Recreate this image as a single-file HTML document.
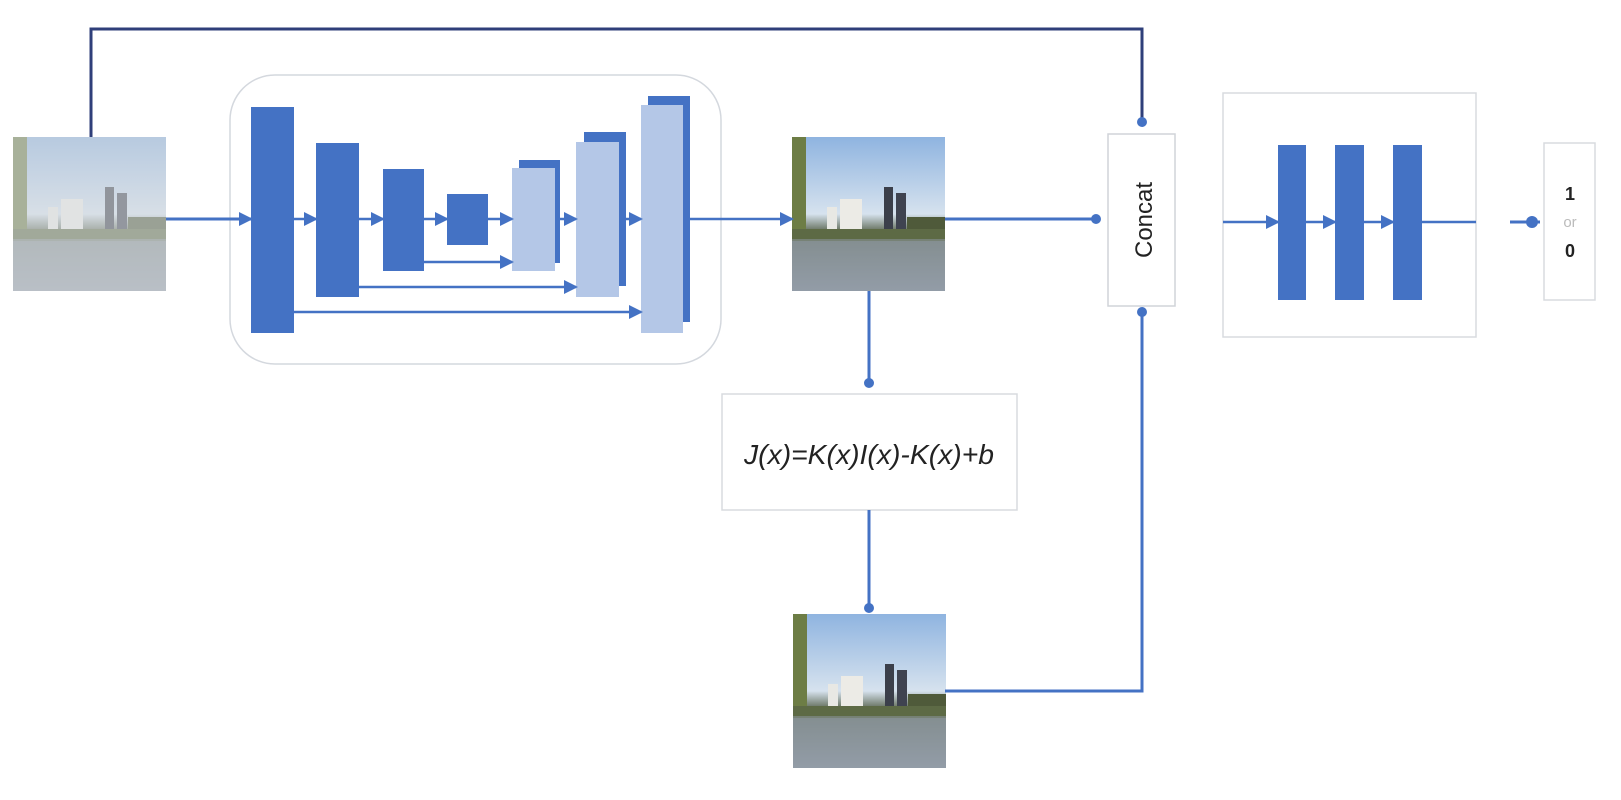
<!DOCTYPE html>
<html><head><meta charset="utf-8"><style>
body{margin:0;width:1621px;height:800px;background:#fff;overflow:hidden}
svg{display:block}
</style></head><body>
<svg width="1621" height="800" viewBox="0 0 1621 800" xmlns="http://www.w3.org/2000/svg">
<defs>
<marker id="b" markerWidth="14" markerHeight="14" refX="12" refY="7" orient="auto" markerUnits="userSpaceOnUse"><path d="M0,0 L14,7 L0,14 Z" fill="#4472C4"/></marker>
<linearGradient id="sky" x1="0" y1="0" x2="0" y2="1"><stop offset="0" stop-color="#8fb4e0"/><stop offset="0.5" stop-color="#d6e2ee"/><stop offset="0.6" stop-color="#6f7a6a"/><stop offset="1" stop-color="#9aa3ad"/></linearGradient>
<g id="city">
<rect x="0" y="0" width="153" height="154" fill="url(#sky)"/>
<rect x="0" y="0" width="14" height="100" fill="#6d7d45"/>
<rect x="35" y="70" width="10" height="30" fill="#e8e8e4"/>
<rect x="48" y="62" width="22" height="38" fill="#ecebe6"/>
<rect x="92" y="50" width="9" height="52" fill="#3b3f4a"/>
<rect x="104" y="56" width="10" height="46" fill="#3f4350"/>
<rect x="115" y="80" width="38" height="20" fill="#4f5a3a"/>
<rect x="0" y="92" width="153" height="10" fill="#5d6a45"/>
<rect x="0" y="104" width="153" height="50" fill="#8d98a3" opacity="0.6"/>
</g>
</defs>
<g transform="translate(13,137)"><use href="#city"/><rect width="153" height="154" fill="#d8dde0" opacity="0.55"/></g>
<g transform="translate(792,137)"><use href="#city"/></g>
<g transform="translate(793,614)"><use href="#city"/></g>

<polyline points="91,137 91,29 1142,29 1142,122" fill="none" stroke="#2f3f7a" stroke-width="3"/>
<circle cx="1142" cy="122" r="5" fill="#4472C4"/>

<rect x="230" y="75" width="491" height="289" rx="45" fill="none" stroke="#d4d8de" stroke-width="1.5"/>
<line x1="166" y1="219" x2="251" y2="219" stroke="#4472C4" stroke-width="3" marker-end="url(#b)"/>
<rect x="251" y="107" width="43" height="226" fill="#4472C4"/>
<rect x="316" y="143" width="43" height="154" fill="#4472C4"/>
<rect x="383" y="169" width="41" height="102" fill="#4472C4"/>
<rect x="447" y="194" width="41" height="51" fill="#4472C4"/>
<rect x="519" y="160" width="41" height="103" fill="#4472C4"/>
<rect x="512" y="168" width="43" height="103" fill="#B4C7E7"/>
<rect x="584" y="132" width="42" height="154" fill="#4472C4"/>
<rect x="576" y="142" width="43" height="155" fill="#B4C7E7"/>
<rect x="648" y="96" width="42" height="226" fill="#4472C4"/>
<rect x="641" y="105" width="42" height="228" fill="#B4C7E7"/>
<g stroke="#4472C4" stroke-width="2.5">
<line x1="294" y1="219" x2="316" y2="219" marker-end="url(#b)"/>
<line x1="359" y1="219" x2="383" y2="219" marker-end="url(#b)"/>
<line x1="424" y1="219" x2="447" y2="219" marker-end="url(#b)"/>
<line x1="488" y1="219" x2="512" y2="219" marker-end="url(#b)"/>
<line x1="555" y1="219" x2="576" y2="219" marker-end="url(#b)"/>
<line x1="619" y1="219" x2="641" y2="219" marker-end="url(#b)"/>
<line x1="424" y1="262" x2="512" y2="262" marker-end="url(#b)"/>
<line x1="359" y1="287" x2="576" y2="287" marker-end="url(#b)"/>
<line x1="294" y1="312" x2="641" y2="312" marker-end="url(#b)"/>
<line x1="690" y1="219" x2="792" y2="219" marker-end="url(#b)"/>
</g>

<line x1="869" y1="291" x2="869" y2="383" stroke="#4472C4" stroke-width="3"/>
<circle cx="869" cy="383" r="5" fill="#4472C4"/>
<rect x="722" y="394" width="295" height="116" fill="#fff" stroke="#d8dbdf" stroke-width="1.5"/>
<text x="869" y="464" text-anchor="middle" font-family="Liberation Sans, sans-serif" font-style="italic" font-size="28" fill="#222" textLength="250" lengthAdjust="spacingAndGlyphs">J(x)=K(x)I(x)-K(x)+b</text>
<line x1="869" y1="510" x2="869" y2="608" stroke="#4472C4" stroke-width="3"/>
<circle cx="869" cy="608" r="5" fill="#4472C4"/>

<line x1="945" y1="219" x2="1096" y2="219" stroke="#4472C4" stroke-width="3"/>
<circle cx="1096" cy="219" r="5" fill="#4472C4"/>
<polyline points="945,691 1142,691 1142,312" fill="none" stroke="#4472C4" stroke-width="3"/>
<circle cx="1142" cy="312" r="5" fill="#4472C4"/>
<rect x="1108" y="134" width="67" height="172" fill="#fff" stroke="#d0d4d9" stroke-width="1.5"/>
<text transform="translate(1152,220) rotate(-90)" text-anchor="middle" font-family="Liberation Sans, sans-serif" font-size="24" fill="#222">Concat</text>

<rect x="1223" y="93" width="253" height="244" fill="#fff" stroke="#d8dbdf" stroke-width="1.5"/>
<line x1="1223" y1="222" x2="1278" y2="222" stroke="#4472C4" stroke-width="2.5" marker-end="url(#b)"/>
<rect x="1278" y="145" width="28" height="155" fill="#4472C4"/>
<rect x="1335" y="145" width="29" height="155" fill="#4472C4"/>
<rect x="1393" y="145" width="29" height="155" fill="#4472C4"/>
<line x1="1306" y1="222" x2="1335" y2="222" stroke="#4472C4" stroke-width="2.5" marker-end="url(#b)"/>
<line x1="1364" y1="222" x2="1393" y2="222" stroke="#4472C4" stroke-width="2.5" marker-end="url(#b)"/>
<line x1="1422" y1="222" x2="1476" y2="222" stroke="#4472C4" stroke-width="2.5"/>
<line x1="1510" y1="222" x2="1540" y2="222" stroke="#4472C4" stroke-width="3"/>
<circle cx="1532" cy="222" r="6" fill="#4472C4"/>
<rect x="1544" y="143" width="51" height="157" fill="#fff" stroke="#d8dbdf" stroke-width="1.5"/>
<text x="1570" y="200" text-anchor="middle" font-family="Liberation Sans, sans-serif" font-weight="bold" font-size="18" fill="#222">1</text>
<text x="1570" y="227" text-anchor="middle" font-family="Liberation Sans, sans-serif" font-size="15" fill="#bbb">or</text>
<text x="1570" y="257" text-anchor="middle" font-family="Liberation Sans, sans-serif" font-weight="bold" font-size="18" fill="#222">0</text>
</svg>
</body></html>
